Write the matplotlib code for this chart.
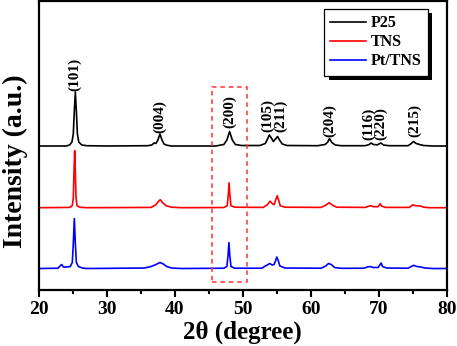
import matplotlib
matplotlib.use('Agg')
import matplotlib.pyplot as plt
from matplotlib.patches import Rectangle
from matplotlib.transforms import IdentityTransform
from matplotlib.ticker import MultipleLocator

plt.rcParams['font.family'] = ['Liberation Serif', 'DejaVu Serif']
plt.rcParams['font.weight'] = 'bold'

# XRD patterns (2theta, relative intensity above baseline)
p25_x = [20, 24, 24.5, 24.85, 25.05, 25.2, 25.35, 25.5, 25.65, 25.85, 26.3, 27, 30,
         36, 36.6, 36.95, 37.2, 37.5, 37.8, 38.1, 38.4, 38.8, 39.5,
         46, 47.2, 47.65, 48.05, 48.45, 48.9, 49.8,
         52.5, 53.3, 53.7, 53.9, 54.2, 54.5, 54.8, 55.1, 55.4, 55.8, 56.5,
         61, 62.1, 62.5, 62.75, 63.1, 63.6, 64.5,
         68, 68.6, 68.85, 69.2, 69.8, 70.3, 70.7, 71.5,
         74.3, 74.8, 75.1, 75.5, 76, 76.6, 78, 80]
p25_y = [0, 0, 1, 4, 12, 35, 54, 35, 12, 4, 1, 0.3, 0,
         0.3, 1, 3, 2.5, 6, 12, 6, 2, 0.8, 0,
         0, 1.5, 6, 14.5, 6, 1.5, 0.5,
         0.5, 2.5, 8, 11, 8, 4.5, 7, 9.5, 6, 2, 0.5,
         0.3, 1.5, 4, 7.5, 3.5, 1, 0.3,
         0.3, 1.5, 3, 1.5, 1.2, 3, 1, 0.3,
         0.3, 2.5, 4.5, 2.5, 1.5, 0.5, 0, 0]

tns_x = [20, 24.5, 24.9, 25.05, 25.15, 25.25, 25.35, 25.45, 25.6, 26, 27,
         36.5, 37.2, 37.6, 37.85, 38.2, 38.7, 39.5, 41,
         47.2, 47.7, 47.85, 47.97, 48.1, 48.25, 48.8,
         53, 53.6, 54.0, 54.35, 54.6, 54.85, 55.05, 55.25, 55.5, 56.2,
         61.5, 62.2, 62.7, 63.2, 63.8,
         68, 68.5, 68.8, 69.2, 69.9, 70.2, 70.45, 71,
         74.5, 75.0, 75.5, 76.1, 76.6, 77.5, 80]
tns_y = [0, 0.3, 2, 10, 35, 57, 35, 10, 2, 0.5, 0,
         0.3, 3, 6.5, 8, 5, 2, 0.5, 0,
         0.2, 2, 12, 25, 12, 2, 0.5,
         0.3, 3, 6.5, 4, 3, 8, 12, 8, 2, 0.5,
         0.3, 2.5, 5, 2.5, 0.5,
         0.3, 1.5, 2, 1, 1, 4, 1.5, 0.3,
         0.3, 2.8, 2, 1.8, 0.5, 0, 0]

pt_x = [20, 22.8, 23.1, 23.35, 23.6, 24.0, 24.6, 24.9, 25.05, 25.2, 25.35, 25.5, 25.8, 26.4, 27,
        35.5, 36.5, 37.2, 37.8, 38.3, 38.8, 39.5, 41,
        47.2, 47.65, 47.82, 47.95, 48.08, 48.25, 48.8,
        52.8, 53.3, 53.6, 53.95, 54.3, 54.6, 54.85, 55.0, 55.2, 55.45, 56.2,
        61.5, 62.2, 62.6, 63.0, 63.5, 64.5,
        67.8, 68.3, 68.7, 69.2, 69.9, 70.2, 70.35, 70.55, 71.2,
        74.3, 74.8, 75.1, 75.6, 76.2, 76.8, 78, 80]
pt_y = [0, 0.3, 2.5, 4, 1.5, 1.5, 2, 6, 25, 50, 25, 6, 2, 0.5, 0,
        0.5, 2, 4, 6, 4.5, 2, 0.5, 0,
        0.3, 2, 13, 26, 13, 2, 0.3,
        0.3, 2.5, 3.5, 5, 3.5, 4, 8.5, 11.5, 8, 2.5, 0.5,
        0.3, 2.5, 5, 4, 1, 0.2,
        0.3, 1.5, 2, 1, 1, 4, 5.5, 2, 0.5,
        0.3, 2, 3.2, 2, 1.5, 0.5, 0, 0]

series_names = ['P25', 'TNS', 'Pt/TNS']
series_colors = ['black', 'red', 'blue']
offsets = [144, 82.3, 21.5]

# peak labels: text, label x, label bottom (in P25 curve units)
hkl_labels = ['(101)', '(004)', '(200)', '(105)', '(211)', '(204)', '(116)', '(220)', '(215)']
hkl_x = [25.3, 37.8, 48.0, 53.6, 55.6, 62.7, 68.5, 70.3, 75.3]
hkl_y = [55, 13, 18, 14, 14, 9, 6, 6, 9]

fig = plt.figure(figsize=(4.57, 3.46), dpi=100)
ax = fig.add_axes([0.0853, 0.1618, 0.8922, 0.8339])

for xs, ys, name, c, off in zip([p25_x, tns_x, pt_x], [p25_y, tns_y, pt_y],
                                series_names, series_colors, offsets):
    ax.plot(xs, [v + off for v in ys], color=c, lw=1.2, label=name)

for t, x, y in zip(hkl_labels, hkl_x, hkl_y):
    ax.text(x, y + offsets[0], t, rotation=90, ha='center', va='bottom',
            fontsize=11, fontweight='bold')

# dashed box around the (200) peak
ax.add_patch(Rectangle((45.4, 8.3), 5.25, 194.4, fill=False, ec='#ff3333',
                       ls=(0, (3, 2.5)), lw=1.1, zorder=3))

ax.set_xlim(20, 80)
ax.set_ylim(0, 288.5)
ax.xaxis.set_major_locator(MultipleLocator(10))
ax.xaxis.set_minor_locator(MultipleLocator(5))
ax.tick_params(axis='x', which='major', direction='out', length=5, width=1.5,
               labelsize=14, pad=3, top=False)
ax.tick_params(axis='x', which='minor', direction='out', length=3, width=1.5, top=False)
ax.set_yticks([])
for s in ax.spines.values():
    s.set_linewidth(1.6)

ax.set_xlabel('2θ (degree)', fontsize=18, fontweight='bold', labelpad=2)
ax.set_ylabel('Intensity (a.u.)', fontsize=20, fontweight='bold')
ax.yaxis.set_label_coords(-0.026, 0.445)

leg = ax.legend(loc='upper right', bbox_to_anchor=(0.953, 0.974), borderaxespad=0,
                fancybox=False, edgecolor='black', framealpha=1,
                handlelength=2.2, handletextpad=0.3, labelspacing=0.18,
                borderpad=0.4, prop={'weight': 'bold', 'size': 11.5})
leg.get_frame().set_linewidth(0.9)
leg.set_zorder(5)

fig.canvas.draw()
bb = leg.get_frame().get_window_extent()
shadow = Rectangle((bb.x0 + 4.5, bb.y0 - 4.5), bb.width, bb.height,
                   transform=IdentityTransform(), fc='black', ec='none',
                   zorder=4.9, clip_on=False)
ax.add_artist(shadow)

fig.savefig('out.png', dpi=100)
